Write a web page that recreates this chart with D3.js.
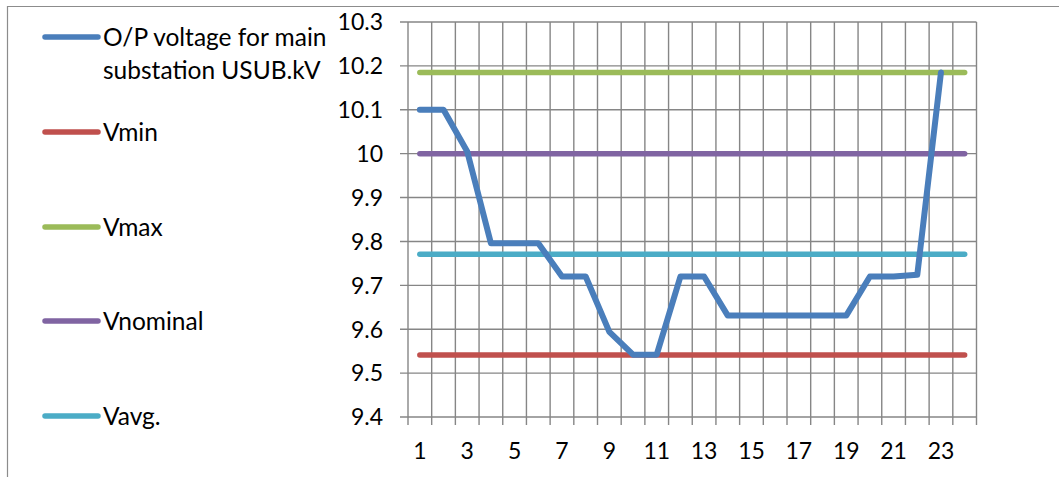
<!DOCTYPE html>
<html><head><meta charset="utf-8">
<script src="https://cdn.jsdelivr.net/npm/d3@7"></script>
<style>html,body{margin:0;padding:0;background:#fff;}svg{display:block;}</style>
</head><body><svg id="c" width="1059" height="477"></svg>
<script>
const hours = d3.range(1, 25);
const xTickLabels = [1,3,5,7,9,11,13,15,17,19,21,23];
const yTicks = [9.4,9.5,9.6,9.7,9.8,9.9,10,10.1,10.2,10.3];
const voltage = [10.1,10.1,10.005,9.796,9.796,9.796,9.72,9.72,9.594,9.542,9.542,9.72,9.72,9.631,9.631,9.631,9.631,9.631,9.631,9.72,9.72,9.724,10.185];
const vmin = 9.541, vmax = 10.185, vnominal = 10.0, vavg = 9.771;
const seriesNames = ["O/P voltage for main substation USUB.kV","Vmin","Vmax","Vnominal","Vavg."];
const colors = ["#4A7EBB","#C0504D","#9BBB59","#8064A2","#4BACC6"];

const svg = d3.select("#c");
const font = "Lato, 'Open Sans', sans-serif";
// outer border
svg.append("path").attr("d","M7.5,477 V6.5 H1059").attr("fill","none").attr("stroke","#8c8c8c").attr("stroke-width",1.2);

const L=408, R=976.5, T=22, B=417;
const xb = d3.scaleBand().domain(hours).range([L,R]).padding(0);
const xc = h => xb(h)+xb.bandwidth()/2;
const y = d3.scaleLinear().domain([9.4,10.3]).range([B,T]);

const grid = svg.append("g").attr("stroke","#868686").attr("stroke-width",1.4).attr("fill","none");
yTicks.forEach(v=>{ grid.append("line").attr("x1",L-8).attr("x2",R).attr("y1",y(v)).attr("y2",y(v)); });
const bounds = hours.map(h=>xb(h)).concat([R]);
bounds.forEach(bx=>{ grid.append("line").attr("x1",bx).attr("x2",bx).attr("y1",T).attr("y2",B+8); });

svg.append("g").selectAll("text").data(yTicks).join("text")
  .attr("x",383).attr("y",d=>y(d)).attr("dy","0.36em").attr("text-anchor","end")
  .attr("font-family",font).attr("font-size",23).attr("fill","#000")
  .text(d=>d3.format("")(+d.toFixed(1)));
svg.append("g").selectAll("text").data(xTickLabels).join("text")
  .attr("x",d=>xc(d)).attr("y",451).attr("dy","0.36em").attr("text-anchor","middle")
  .attr("font-family",font).attr("font-size",23).attr("fill","#000").text(d=>d);

const line = d3.line().x(d=>xc(d[0])).y(d=>y(d[1]));
[[vmin,colors[1]],[vavg,colors[4]],[vmax,colors[2]],[vnominal,colors[3]]].forEach(([v,c])=>{
  svg.append("path").datum(hours.map(h=>[h,v])).attr("d",line)
    .attr("fill","none").attr("stroke",c).attr("stroke-width",5.5).attr("stroke-linecap","round");
});
svg.append("path").datum(voltage.map((v,i)=>[hours[i],v])).attr("d",line)
  .attr("fill","none").attr("stroke",colors[0]).attr("stroke-width",6)
  .attr("stroke-linecap","round").attr("stroke-linejoin","round");

const legY = [37,132,227,321,416];
const leg = svg.append("g");
seriesNames.forEach((n,i)=>{
  leg.append("line").attr("x1",45).attr("x2",98).attr("y1",legY[i]).attr("y2",legY[i])
    .attr("stroke",colors[i]).attr("stroke-width",5.5).attr("stroke-linecap","round");
  const t = leg.append("text").attr("x",103).attr("y",legY[i]).attr("dy","0.36em")
    .attr("font-family",font).attr("font-size",24.5).attr("fill","#000");
  if(i===0){
    t.append("tspan").attr("x",103).text("O/P voltage for main");
    t.append("tspan").attr("x",103).attr("dy","1.35em").text("substation USUB.kV");
  } else t.text(n);
});
</script></body></html>
